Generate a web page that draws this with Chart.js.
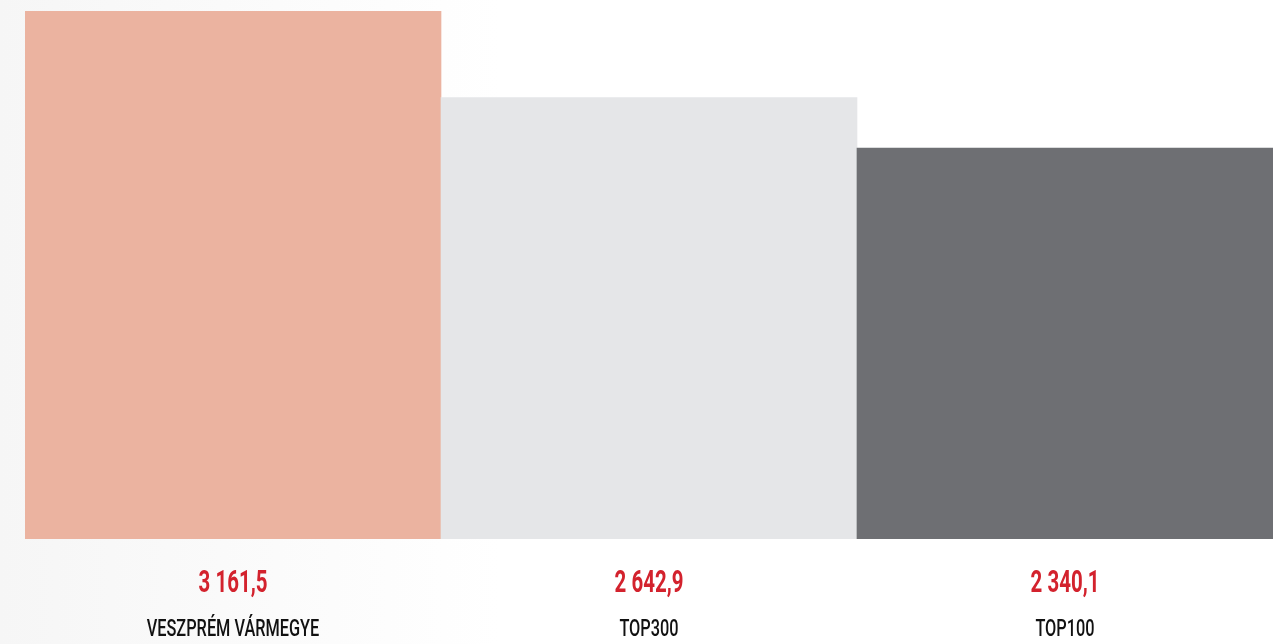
<!DOCTYPE html>
<html>
<head>
<meta charset="utf-8">
<script src="https://cdn.jsdelivr.net/npm/chart.js@4.4.0/dist/chart.umd.min.js"></script>
<style>
  html, body { margin: 0; padding: 0; background: #fff; }
  #wrap { width: 1278px; height: 644px; position: relative; }
</style>
</head>
<body>
<div id="wrap"><canvas id="chart"></canvas></div>
<script>
// adatok
const categories = ['VESZPRÉM VÁRMEGYE', 'TOP300', 'TOP100'];
const values = [3161.5, 2642.9, 2340.1];
const valueLabels = ['3 161,5', '2 642,9', '2 340,1'];
const barColors = ['#ebb3a0', '#e5e6e8', '#6e6f73'];

const FONT = "Roboto, 'DejaVu Sans', sans-serif";

// halvány szürke háttér bal oldalt
const bgPlugin = {
  id: 'bg',
  beforeDraw(chart) {
    const ctx = chart.ctx;
    const g = ctx.createLinearGradient(0, 0, 500, 0);
    g.addColorStop(0, '#f6f6f6');
    g.addColorStop(1, '#ffffff');
    ctx.save();
    ctx.fillStyle = g;
    ctx.fillRect(0, 0, chart.width, chart.height);
    ctx.restore();
  }
};

// keskenyített szöveg (Bebas-szerű hatás)
function narrowText(ctx, text, x, y, sx) {
  ctx.save();
  ctx.translate(x, y);
  ctx.scale(sx, 1);
  ctx.fillText(text, 0, 0);
  ctx.restore();
}

// értékek és kategórianevek az oszlopok alatt
const labelPlugin = {
  id: 'bottomLabels',
  afterDraw(chart) {
    const ctx = chart.ctx;
    const xs = chart.scales.x;
    ctx.save();
    ctx.textAlign = 'center';
    ctx.textBaseline = 'alphabetic';
    categories.forEach((c, i) => {
      const x = xs.getPixelForValue(i);
      ctx.fillStyle = '#d3222d';
      ctx.font = 'bold 31px ' + FONT;
      narrowText(ctx, valueLabels[i], x, 592, 0.66);
      ctx.fillStyle = '#111111';
      ctx.font = '500 24px ' + FONT;
      narrowText(ctx, c, x, 636, 0.68);
    });
    ctx.restore();
  }
};

new Chart(document.getElementById('chart').getContext('2d'), {
  type: 'bar',
  data: {
    labels: categories,
    datasets: [{
      data: values,
      backgroundColor: barColors,
      borderWidth: 0,
      barPercentage: 1,
      categoryPercentage: 1
    }]
  },
  options: {
    responsive: true,
    maintainAspectRatio: false,
    animation: false,
    layout: { padding: { left: 25, right: 5, top: 11, bottom: 105 } },
    plugins: {
      legend: { display: false },
      tooltip: { enabled: false }
    },
    scales: {
      x: { display: false },
      y: { display: false, min: 0, max: 3161.5 }
    }
  },
  plugins: [bgPlugin, labelPlugin]
});
</script>
</body>
</html>
